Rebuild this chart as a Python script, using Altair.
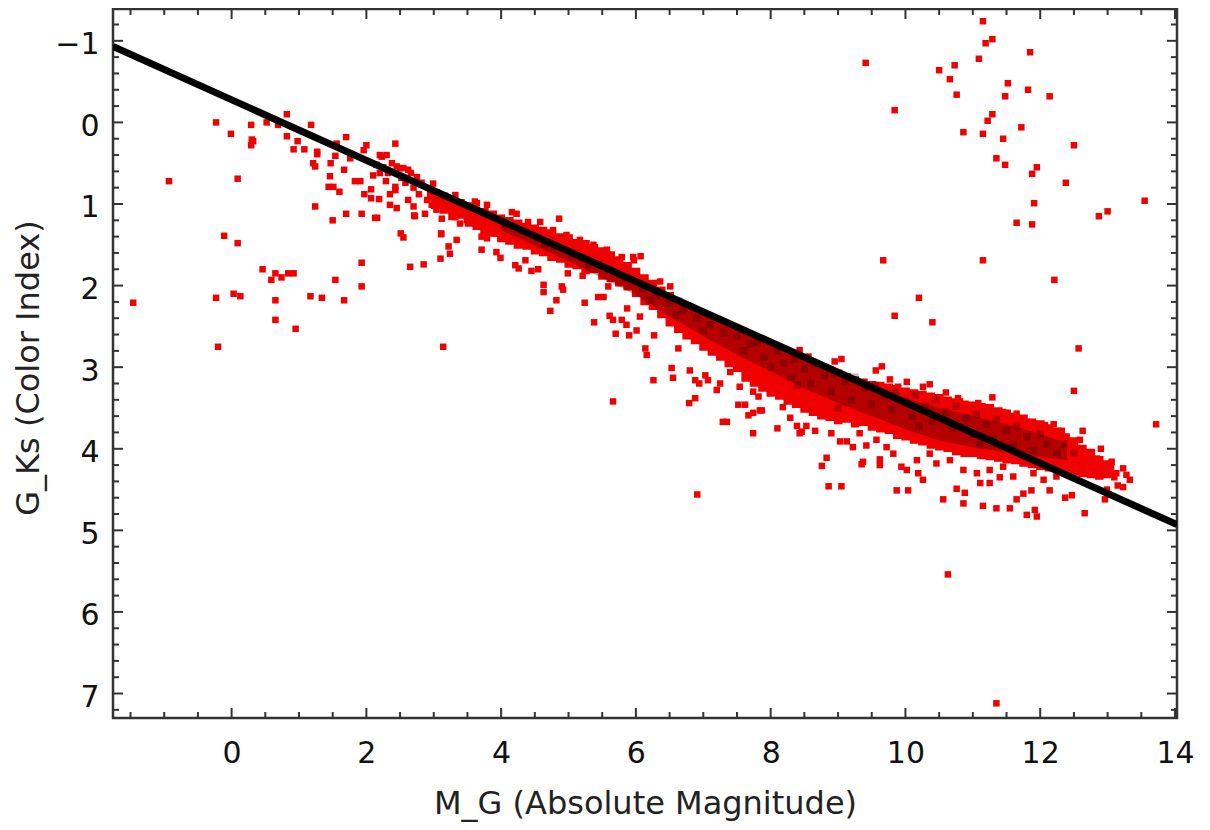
import altair as alt
import pandas as pd

# ---------------- data ----------------
# isolated stars far from the main sequence
outliers = [
    (11.15, -1.24), (11.29, -1.02), (11.19, -0.97), (11.85, -0.86), (9.41, -0.73),
    (11.09, -0.78), (10.73, -0.70), (10.50, -0.64), (10.66, -0.53), (11.52, -0.48),
    (11.82, -0.40), (10.76, -0.34), (11.48, -0.32), (12.14, -0.32), (9.84, -0.15),
    (11.29, -0.10), (11.22, -0.02), (11.72, 0.06), (10.86, 0.12), (11.15, 0.14),
    (11.45, 0.20), (12.50, 0.28), (11.35, 0.44), (11.48, 0.52), (11.95, 0.55),
    (11.88, 0.63), (12.38, 0.74), (11.91, 0.99), (13.55, 0.96), (13.00, 1.09),
    (12.87, 1.15), (11.65, 1.23), (11.88, 1.25), (9.67, 1.69), (11.15, 1.69),
    (12.21, 1.93), (10.20, 2.15), (9.84, 2.37), (10.40, 2.45), (12.57, 2.77),
    (12.50, 3.29), (13.72, 3.70), (10.63, 5.54), (11.35, 7.12), (6.91, 4.56),
    (5.66, 3.42), (3.14, 2.75),
    (-1.46, 2.21), (-0.93, 0.72), (-0.23, 0.00), (-0.01, 0.14), (0.29, 0.03),
    (0.30, 0.21), (0.32, 0.23), (0.29, 0.28), (0.52, 0.00), (0.69, 0.03),
    (0.82, -0.10), (0.82, 0.17), (0.92, 0.33), (0.98, 0.23), (1.08, 0.33),
    (1.18, 0.03), (1.21, 0.50), (1.24, 0.54), (1.27, 0.36), (1.27, 0.39),
    (0.09, 0.69), (-0.11, 1.39), (0.09, 1.48), (0.46, 1.80), (0.59, 1.93),
    (0.65, 1.85), (0.74, 1.90), (0.84, 1.85), (0.92, 1.85), (-0.23, 2.15),
    (0.03, 2.10), (0.13, 2.13), (0.65, 2.18), (0.65, 2.42), (0.95, 2.53),
    (-0.20, 2.75), (1.17, 2.13), (1.34, 2.15), (1.54, 1.93), (1.67, 2.18),
    (1.93, 1.72), (1.93, 2.01), (1.24, 1.03), (1.50, 1.20), (1.70, 1.12),
    (1.93, 1.12), (2.13, 1.17), (2.16, 1.17), (2.51, 1.36), (2.55, 1.41),
    (2.71, 1.14), (2.65, 1.77), (2.85, 1.74),
]

# stars along the edges of the main sequence band
fringe = [
    (1.46, 0.66), (1.44, 0.79), (1.51, 0.79), (1.60, 0.85), (1.47, 0.50), (1.54, 0.41),
    (1.67, 0.58), (1.70, 0.18), (1.56, 0.26), (1.76, 0.44), (1.83, 0.72), (1.91, 0.72),
    (1.96, 0.34), (2.00, 0.28), (1.97, 0.88), (2.07, 0.82), (2.07, 0.93), (2.10, 0.65),
    (2.19, 0.94), (2.29, 0.72), (2.23, 0.42), (2.43, 0.26), (2.43, 0.79), (2.43, 0.83),
    (2.35, 1.01), (2.45, 1.05), (2.50, 0.56), (2.62, 0.58), (2.62, 0.95), (2.70, 1.03),
    (2.72, 1.15), (2.87, 1.12), (2.97, 1.01), (3.04, 1.07), (3.12, 1.18), (3.11, 1.37),
    (3.22, 1.52), (3.24, 1.61), (3.10, 1.67), (3.32, 1.16), (3.39, 1.24), (3.34, 1.44),
    (3.49, 1.20), (3.64, 1.22), (3.69, 1.28), (3.71, 1.40), (3.79, 1.42), (3.71, 1.56),
    (3.91, 1.36), (3.93, 1.59), (3.64, 0.99), (3.79, 1.01), (3.11, 1.36), (3.99, 1.66),
    (4.21, 1.75), (4.26, 1.79), (4.36, 1.69), (4.45, 1.82), (4.55, 1.80), (4.63, 1.99),
    (4.63, 2.08), (4.73, 2.31), (4.82, 2.18), (4.90, 2.01), (4.92, 2.05), (4.86, 1.18),
    (4.99, 1.85), (5.10, 1.75), (5.21, 1.88), (5.24, 2.21), (5.38, 2.45), (5.44, 2.14),
    (5.52, 2.14), (5.59, 2.01), (5.61, 2.37), (5.66, 2.42), (5.70, 2.59), (5.79, 2.42),
    (5.86, 2.48), (5.87, 2.28), (5.90, 2.61), (6.01, 2.55), (6.06, 2.38), (6.14, 2.77),
    (6.16, 2.85), (6.07, 1.64), (5.97, 1.69), (6.26, 3.16), (6.27, 2.61), (6.53, 3.01),
    (6.55, 3.13), (6.63, 2.77), (6.80, 3.04), (6.88, 3.16), (6.94, 3.20), (6.88, 3.38),
    (6.79, 3.44), (7.03, 3.10), (7.07, 3.16), (7.25, 3.20), (7.20, 3.28), (7.29, 3.67),
    (7.35, 3.67), (7.40, 3.06), (7.54, 3.24), (7.52, 3.46), (7.62, 3.46), (7.67, 3.59),
    (7.74, 3.30), (7.82, 3.36), (7.87, 3.53),
    (2.20, 0.40), (2.30, 0.40), (2.45, 0.54), (2.55, 0.56), (2.75, 0.67), (2.99, 0.75),
    (3.32, 0.89), (3.61, 0.97), (4.16, 1.10), (4.23, 1.12), (4.40, 1.22), (4.58, 1.22),
    (4.77, 1.32), (4.97, 1.38), (5.17, 1.44), (5.37, 1.50), (5.57, 1.56), (5.79, 1.65),
    (5.96, 1.65), (6.36, 1.95), (6.51, 2.01), (8.43, 2.79), (8.56, 2.87), (8.95, 2.93),
    (9.05, 2.90), (9.56, 3.04), (9.65, 2.99), (9.77, 3.15), (9.89, 3.24), (10.02, 3.18),
    (10.36, 3.21), (10.26, 3.24), (10.60, 3.31), (10.78, 3.38), (10.81, 3.42), (11.29, 3.37),
    (11.08, 3.44), (11.18, 3.49), (11.45, 3.55), (11.65, 3.57), (11.80, 3.67), (11.95, 3.73),
    (12.07, 3.71), (12.20, 3.70), (12.32, 3.78), (12.63, 3.78), (12.59, 3.89), (12.74, 4.06),
    (12.84, 4.12), (13.06, 4.16),
    (7.74, 3.81), (8.10, 3.75), (8.39, 3.72), (8.46, 3.79), (8.53, 3.72), (8.66, 3.78),
    (8.76, 4.21), (8.83, 4.11), (8.86, 4.46), (9.05, 4.46), (9.13, 3.91), (9.37, 4.16),
    (9.35, 4.19), (9.42, 3.96), (9.62, 4.13), (9.62, 4.20), (9.87, 4.51), (10.04, 4.51),
    (9.94, 4.22), (10.02, 4.26), (10.19, 4.30), (10.26, 4.38), (10.56, 4.62), (10.86, 4.67),
    (10.76, 4.49), (10.88, 4.54), (11.15, 4.70), (11.35, 4.73), (11.11, 4.42), (11.25, 4.42),
    (11.40, 4.35), (11.55, 4.73), (11.65, 4.62), (11.80, 4.81), (11.92, 4.75), (11.95, 4.83),
    (11.75, 4.55), (11.87, 4.51), (12.37, 4.60), (12.47, 4.57), (12.66, 4.79), (12.99, 4.50),
    (12.96, 4.62), (13.23, 4.47), (13.33, 4.38), (13.23, 4.24), (13.13, 4.30),
    (12.90, 4.00), (13.00, 4.20), (13.10, 4.35), (12.80, 4.30), (12.70, 4.20), (12.60, 4.10),
    (12.50, 4.00), (12.40, 3.95), (12.30, 4.10), (12.20, 4.00), (13.28, 4.32), (13.15, 4.45),
    (7.74, 3.56), (7.84, 3.53), (8.18, 3.49), (8.29, 3.62), (7.99, 3.32), (8.43, 3.81),
    (8.90, 3.81), (9.03, 3.91), (9.22, 3.98), (9.32, 3.81), (9.57, 3.89), (9.72, 3.98),
    (9.82, 4.06), (10.17, 4.14), (10.36, 4.06), (10.46, 4.18), (10.66, 4.14), (10.86, 4.26),
    (11.06, 4.30), (11.25, 4.26), (11.45, 4.22), (11.60, 4.34), (11.90, 4.30), (12.05, 4.38),
    (12.24, 4.34), (12.14, 4.51),
    (2.25, 0.55), (2.32, 0.62), (2.38, 0.50), (2.52, 0.68), (2.58, 0.74), (2.66, 0.62),
    (2.70, 0.80), (2.78, 0.88), (2.82, 0.74), (2.90, 0.95), (2.95, 0.86), (2.20, 0.62),
    (2.15, 0.52), (2.35, 0.88), (3.05, 0.86), (3.20, 0.92), (3.40, 0.98), (3.55, 1.06),
    (3.85, 1.14),
]

# solid, densely packed part of the main sequence (upper / lower edge of the red)
core_x = [2.90, 3.02, 3.15, 3.28, 3.40, 3.52, 3.63, 3.75, 3.88, 4.00, 4.12, 4.25, 4.38,
          4.50, 4.62, 4.75, 4.88, 5.00, 5.13, 5.25, 5.38, 5.50, 5.63, 5.75, 5.88, 6.00,
          6.13, 6.25, 6.38, 6.50, 6.63, 6.75, 6.88, 7.00, 7.13, 7.25, 7.38, 7.50, 7.63,
          7.75, 7.88, 8.00, 8.13, 8.25, 8.38, 8.50, 8.63, 8.75, 8.88, 9.00, 9.13, 9.25,
          9.38, 9.50, 9.63, 9.75, 9.88, 10.00, 10.13, 10.25, 10.38, 10.50, 10.63, 10.75,
          10.88, 11.00, 11.13, 11.25, 11.38, 11.50, 11.63, 11.75, 11.88, 12.00, 12.13,
          12.25, 12.38, 12.50, 12.63, 12.75, 12.88, 13.00, 13.10]
core_top = [0.80, 0.83, 0.86, 0.90, 0.94, 0.98, 1.03, 1.05, 1.08, 1.13, 1.16, 1.19, 1.23,
            1.25, 1.28, 1.31, 1.36, 1.37, 1.43, 1.44, 1.49, 1.53, 1.58, 1.64, 1.71, 1.78,
            1.86, 1.93, 2.01, 2.08, 2.15, 2.20, 2.26, 2.31, 2.36, 2.40, 2.46, 2.50, 2.55,
            2.60, 2.64, 2.69, 2.73, 2.78, 2.82, 2.86, 2.91, 2.95, 2.99, 3.03, 3.07, 3.11,
            3.14, 3.17, 3.18, 3.20, 3.22, 3.25, 3.27, 3.29, 3.31, 3.33, 3.36, 3.38, 3.41,
            3.42, 3.44, 3.45, 3.49, 3.52, 3.56, 3.58, 3.63, 3.65, 3.70, 3.74, 3.81, 3.86,
            3.95, 4.00, 4.09, 4.14, 4.19]
core_bot = [0.96, 1.06, 1.12, 1.20, 1.18, 1.28, 1.32, 1.38, 1.40, 1.47, 1.50, 1.55, 1.56,
            1.62, 1.64, 1.70, 1.72, 1.78, 1.80, 1.86, 1.85, 1.93, 1.96, 2.01, 2.06, 2.14,
            2.24, 2.30, 2.40, 2.50, 2.58, 2.66, 2.72, 2.80, 2.86, 2.92, 3.00, 3.06, 3.18,
            3.24, 3.30, 3.36, 3.40, 3.46, 3.50, 3.56, 3.60, 3.64, 3.66, 3.70, 3.68, 3.74,
            3.72, 3.78, 3.80, 3.82, 3.88, 3.90, 3.94, 3.96, 4.00, 4.02, 4.04, 4.08, 4.10,
            4.10, 4.13, 4.14, 4.16, 4.18, 4.19, 4.22, 4.24, 4.26, 4.28, 4.30, 4.32, 4.33,
            4.35, 4.36, 4.38, 4.36, 4.34]

# darkest (most overlapped) part of the band, just below the line
dark_x = [4.0, 5.0, 6.0, 6.5, 7.0, 7.5, 8.0, 8.5, 9.0, 9.5, 10.0, 10.5, 11.0, 11.5, 12.0, 12.4]
dark_top = [1.21, 1.58, 1.95, 2.13, 2.32, 2.50, 2.69, 2.88, 3.05, 3.22, 3.38, 3.50, 3.60,
            3.70, 3.82, 3.94]
dark_bot = [1.32, 1.70, 2.12, 2.38, 2.62, 2.85, 3.05, 3.26, 3.44, 3.60, 3.76, 3.90, 3.98,
            4.04, 4.10, 4.14]

# dark clumps inside the band
clumps = [
    (4.05, 1.25), (4.30, 1.33), (4.55, 1.42), (4.80, 1.52), (5.05, 1.62), (5.20, 1.66),
    (5.45, 1.74), (5.60, 1.80), (5.85, 1.90), (6.10, 2.04), (6.30, 2.12), (6.50, 2.22),
    (6.70, 2.30), (6.90, 2.40), (7.10, 2.48), (7.30, 2.58), (6.20, 2.18), (6.60, 2.36),
    (7.00, 2.55), (5.30, 1.75), (4.65, 1.50),
    (7.50, 2.62), (7.60, 2.80), (7.70, 2.72), (7.80, 2.70), (7.90, 2.88), (8.00, 3.00),
    (8.10, 2.80), (8.20, 2.95), (8.30, 3.12), (8.35, 2.90), (8.50, 3.02), (8.60, 3.20),
    (8.65, 2.96), (8.80, 3.10), (8.90, 3.30), (8.95, 3.08), (9.10, 3.18), (9.20, 3.40),
    (9.25, 3.12), (9.40, 3.25), (9.50, 3.45), (9.55, 3.22), (9.70, 3.34), (9.80, 3.52),
    (9.85, 3.30), (10.00, 3.42), (10.10, 3.60), (10.15, 3.34), (10.30, 3.48), (10.40, 3.66),
    (10.45, 3.40), (10.60, 3.55), (10.70, 3.75), (10.75, 3.48), (10.90, 3.62), (11.00, 3.82),
    (11.05, 3.58), (11.20, 3.70), (11.30, 3.88), (11.35, 3.64), (11.50, 3.78), (11.60, 3.95),
    (11.65, 3.72), (11.80, 3.85), (11.90, 4.02), (12.00, 3.82), (12.10, 3.94), (12.25, 4.06),
    (12.35, 3.94), (12.50, 4.05), (9.00, 3.50), (10.20, 3.72), (11.10, 3.95), (8.40, 3.22),
]

# fitted line
fit_x = [-1.76, 14.03]
fit_y = [-0.93, 4.93]

# axes
x_labels = [0, 2, 4, 6, 8, 10, 12, 14]
y_labels = [-1, 0, 1, 2, 3, 4, 5, 6, 7]
x_minor = [v / 2 for v in range(-3, 28) if v % 4 != 0]
y_minor = [v / 5 for v in range(-6, 37) if v % 5 != 0]

# ---------------- chart ----------------
W, H = 1064, 709
FONT = "DejaVu Sans"
RED = "#f00000"
FRAME = "#333333"

xs = alt.Scale(domain=[-1.76, 14.03], nice=False, zero=False)
ys = alt.Scale(domain=[-1.39, 7.30], nice=False, zero=False, reverse=True)

x_axis = alt.Axis(values=x_labels, format="d", ticks=False, domain=False, grid=False,
                  labelFont=FONT, labelFontSize=30, labelColor="#111111", labelPadding=20,
                  title="M_G (Absolute Magnitude)", titleFont=FONT, titleFontSize=32,
                  titleFontWeight="normal", titleColor="#222222", titleX=W / 2, titleY=95,
                  titleBaseline="alphabetic", titleAlign="center")
y_axis = alt.Axis(values=y_labels, format="d", ticks=False, domain=False, grid=False,
                  labelFont=FONT, labelFontSize=30, labelColor="#111111", labelPadding=14,
                  labelOffset=4,
                  title="G_Ks (Color Index)", titleFont=FONT, titleFontSize=32,
                  titleFontWeight="normal", titleColor="#222222", titleAngle=270,
                  titleX=-75, titleY=H / 2 + 4, titleBaseline="alphabetic", titleAlign="center")

X = lambda f: alt.X(f, type="quantitative", scale=xs, axis=x_axis)
Y = lambda f: alt.Y(f, type="quantitative", scale=ys, axis=y_axis)

pts = pd.DataFrame(outliers + fringe, columns=["x", "y"])
clump_df = pd.DataFrame(clumps, columns=["x", "y"])
core_df = pd.DataFrame({"x": core_x, "y": core_top, "y2": core_bot})
dark_df = pd.DataFrame({"x": dark_x, "y": dark_top, "y2": dark_bot})
fit_df = pd.DataFrame({"x": fit_x, "y": fit_y})

core = alt.Chart(core_df).mark_area(color=RED, interpolate="step", clip=True).encode(
    x=X("x"), y=Y("y"), y2="y2")
points = alt.Chart(pts).mark_square(size=42, color=RED, opacity=1, clip=True).encode(
    x=X("x"), y=Y("y"))
dark = alt.Chart(dark_df).mark_area(color="#300000", opacity=0.3, clip=True).encode(
    x=X("x"), y=Y("y"), y2="y2")
clump = alt.Chart(clump_df).mark_square(size=55, color="#200000", opacity=0.25, clip=True).encode(
    x=X("x"), y=Y("y"))
fit = alt.Chart(fit_df).mark_line(color="black", strokeWidth=7, clip=True).encode(
    x=X("x"), y=Y("y"))

def xticks(vals, length):
    df = pd.DataFrame({"x": vals})
    bottom = alt.Chart(df).mark_rule(color=FRAME, strokeWidth=2).encode(
        x=X("x"), y=alt.value(H), y2=alt.value(H - length))
    top = alt.Chart(df).mark_rule(color=FRAME, strokeWidth=2).encode(
        x=X("x"), y=alt.value(0), y2=alt.value(length))
    return [bottom, top]

def yticks(vals, length):
    df = pd.DataFrame({"y": vals})
    left = alt.Chart(df).mark_rule(color=FRAME, strokeWidth=2).encode(
        y=Y("y"), x=alt.value(0), x2=alt.value(length))
    right = alt.Chart(df).mark_rule(color=FRAME, strokeWidth=2).encode(
        y=Y("y"), x=alt.value(W), x2=alt.value(W - length))
    return [left, right]

layers = [core, points, dark, clump, fit] + xticks(x_labels, 10) + xticks(x_minor, 6) \
    + yticks(y_labels, 10) + yticks(y_minor, 6)

chart = alt.layer(*layers).properties(
    width=W, height=H,
    autosize=alt.AutoSizeParams(type="none"),
    padding={"left": 105, "top": 1, "right": 22, "bottom": 106},
).configure_view(stroke=FRAME, strokeWidth=2.5)

chart.save("out.html", embed_options={"renderer": "svg", "actions": False})
